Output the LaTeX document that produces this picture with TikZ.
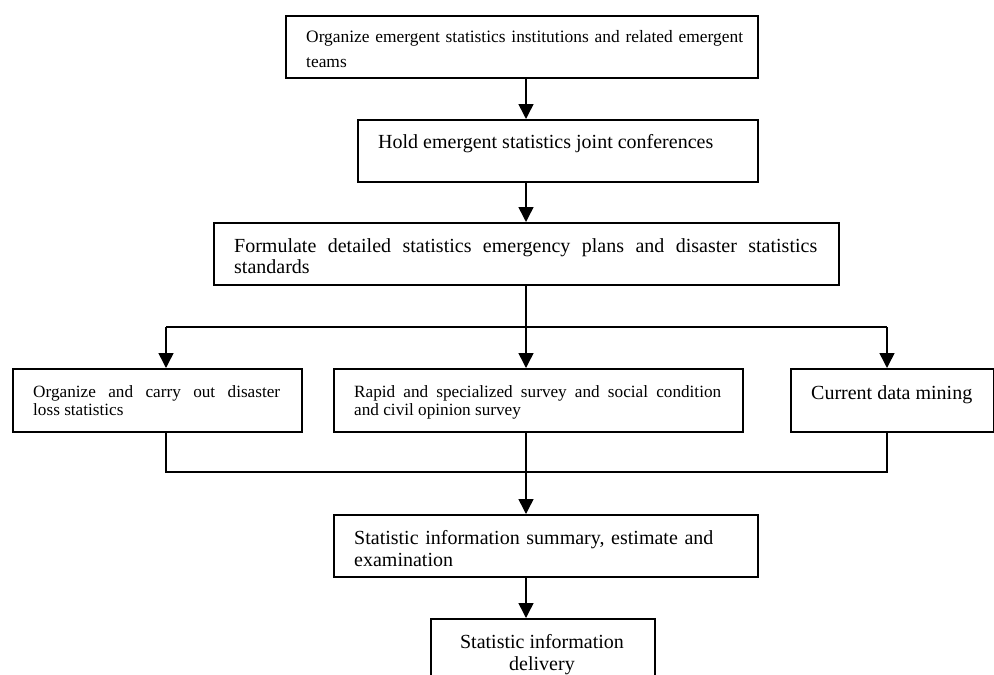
\documentclass[tikz,border=0pt]{standalone}
\usepackage{fontspec}
\setmainfont{Liberation Serif}
\usetikzlibrary{arrows.meta}
\begin{document}
\begin{tikzpicture}[x=1pt,y=-1pt,
  box/.style={draw, line width=1.5pt, inner sep=0pt, anchor=north west},
  txt/.style={inner sep=0pt, anchor=north west},
  ln/.style={line width=1.5pt},
  arr/.style={line width=1.5pt, -{Triangle[length=15pt,width=15pt]}},
  fsmall/.style={font=\fontsize{17.2}{18.5}\selectfont},
  ftop/.style={font=\fontsize{17.4}{25}\selectfont},
  fbig/.style={font=\fontsize{20}{22}\selectfont},
  fthree/.style={font=\fontsize{20}{21.5}\selectfont}
]
\clip (0,0) rectangle (994,675);
% boxes
\node[box, minimum width=472pt, minimum height=62pt] (b1) at (285,15) {};
\node[box, minimum width=400pt, minimum height=62pt] (b2) at (357,119) {};
\node[box, minimum width=625pt, minimum height=62pt] (b3) at (213,222) {};
\node[box, minimum width=289pt, minimum height=63pt] (b4a) at (12,368) {};
\node[box, minimum width=409pt, minimum height=63pt] (b4b) at (333,368) {};
\node[box, minimum width=203pt, minimum height=63pt] (b4c) at (790,368) {};
\node[box, minimum width=424pt, minimum height=62pt] (b5) at (333,514) {};
\node[box, minimum width=224pt, minimum height=80pt] (b6) at (430,618) {};
% texts
\node[txt, ftop, text width=450pt, align=left] (t1) at (306,30)
  {Organize emergent statistics institutions and related emergent\\teams};
\node[txt, fbig] (t2) at (378,134) {Hold emergent statistics joint conferences};
\node[txt, fthree, text width=583pt, align=justify] (t3) at (234,238)
  {Formulate detailed statistics emergency plans and disaster statistics\linebreak standards};
\node[txt, fsmall, text width=247pt, align=justify] (t4a) at (33,385)
  {Organize and carry out disaster\linebreak loss statistics};
\node[txt, fsmall, text width=367pt, align=justify] (t4b) at (354,385)
  {Rapid and specialized survey and social condition\linebreak and civil opinion survey};
\node[txt, fbig] (t4c) at (811,385) {Current data mining};
\node[txt, fbig, text width=400pt, align=left] (t5) at (354,530)
  {Statistic information summary, estimate and\\examination};
\node[txt, fbig, anchor=north, align=center] (t6) at (542,634)
  {Statistic information\\delivery};
% connector guides
\coordinate (xa) at (526,0);
\coordinate (xl) at (166,0);
\coordinate (xr) at (887,0);
\coordinate (j1) at (526,327);
\coordinate (j2) at (526,472);
% connectors
\draw[arr] (b1.south -| xa) -- (b2.north -| xa);
\draw[arr] (b2.south -| xa) -- (b3.north -| xa);
\draw[ln] (b3.south -| xa) -- (j1);
\draw[ln] (xl |- j1) -- (xr |- j1);
\draw[arr] (xl |- j1) -- (b4a.north -| xl);
\draw[arr] (j1) -- (b4b.north -| xa);
\draw[arr] (xr |- j1) -- (b4c.north -| xr);
\draw[ln] (b4a.south -| xl) -- (xl |- j2) -- (xr |- j2) -- (b4c.south -| xr);
\draw[arr] (b4b.south -| xa) -- (b5.north -| xa);
\draw[arr] (b5.south -| xa) -- (b6.north -| xa);
\end{tikzpicture}
\end{document}
